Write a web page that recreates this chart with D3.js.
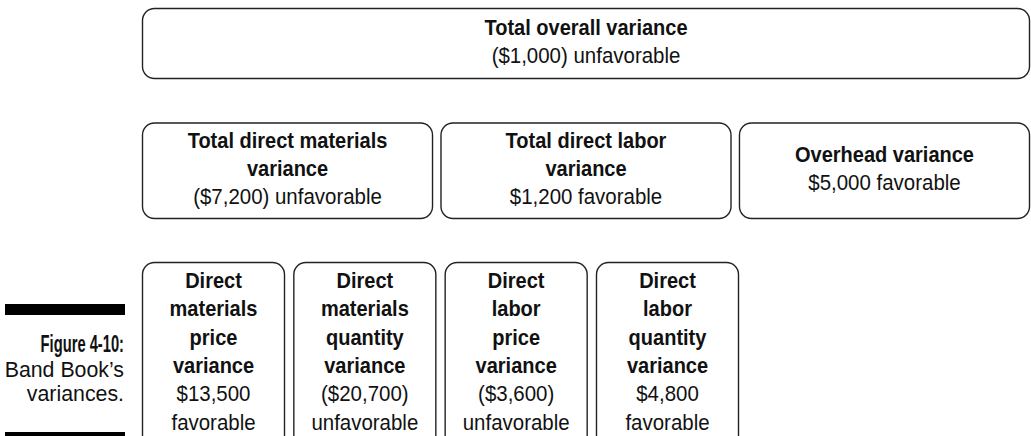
<!DOCTYPE html>
<html>
<head>
<meta charset="utf-8">
<script src="https://cdn.jsdelivr.net/npm/d3@7"></script>
<style>
  html, body { margin: 0; padding: 0; background: #fff; }
  svg { display: block; }
  text { font-family: "Liberation Sans", Arial, sans-serif; fill: #111; }
</style>
</head>
<body>
<div id="chart"></div>
<script>
// 差異の内訳（値は図から読み取り）
const overallTitle = [["Total overall variance"]];
const overallAmount = [["($1,000) unfavorable"]];

const categoryTitles = [
    ["Total direct materials", "variance"],
    ["Total direct labor", "variance"],
    ["Overhead variance"]
];
const categoryAmounts = [
    ["($7,200) unfavorable"],
    ["$1,200 favorable"],
    ["$5,000 favorable"]
];

const detailTitles = [
    ["Direct", "materials", "price", "variance"],
    ["Direct", "materials", "quantity", "variance"],
    ["Direct", "labor", "price", "variance"],
    ["Direct", "labor", "quantity", "variance"]
];
const detailAmounts = [
    ["$13,500", "favorable"],
    ["($20,700)", "unfavorable"],
    ["($3,600)", "unfavorable"],
    ["$4,800", "favorable"]
];

const captionBold = ["Figure 4-10:"];
const captionLines = ["Band Book\u2019s", "variances."];

const width = 1031;
const height = 436;
const lineHeight = 28.3;
const fontSize = 22;
// 細身の書体が無いので横方向に縮める
const boldSqueeze = 0.91;
const regularSqueeze = 0.93;

const svg = d3.select("#chart")
    .append("svg")
    .attr("width", width)
    .attr("height", height);

// 列の位置はバンドスケールで決める
const xTop = d3.scaleBand().domain([0]).range([142, 1030]);
const xMid = d3.scaleBand().domain(d3.range(categoryTitles.length)).range([142, 1030]).paddingInner(0.025);
const xBot = d3.scaleBand().domain(d3.range(detailTitles.length)).range([142, 739]).paddingInner(0.055);

// rows: top / height / first baseline offset
const rows = [
    { titles: overallTitle, amounts: overallAmount, x: xTop, top: 8, h: 70, first: 27 },
    { titles: categoryTitles, amounts: categoryAmounts, x: xMid, top: 122.5, h: 95.5, first: 25 },
    { titles: detailTitles, amounts: detailAmounts, x: xBot, top: 262, h: 190, first: 26 }
];

rows.forEach(row => {
    const maxLines = d3.max(row.titles, (t, i) => t.length + row.amounts[i].length);
    const boxes = svg.append("g")
        .selectAll("g")
        .data(row.titles.map((t, i) => ({ i: i, title: t, amount: row.amounts[i] })))
        .enter()
        .append("g")
        .attr("transform", d => `translate(${row.x(d.i)},${row.top})`);

    boxes.append("rect")
        .attr("x", 0.5)
        .attr("y", 0.5)
        .attr("width", row.x.bandwidth() - 1)
        .attr("height", row.h)
        .attr("rx", 12)
        .attr("ry", 12)
        .attr("fill", "#fff")
        .attr("stroke", "#222")
        .attr("stroke-width", 1.4);

    boxes.each(function(d) {
        const g = d3.select(this);
        const lines = d.title.map(s => ({ s: s, bold: true }))
            .concat(d.amount.map(s => ({ s: s, bold: false })));
        // 行数が少ない箱は縦方向に中央寄せ
        const y0 = row.first + (maxLines - lines.length) * lineHeight / 2;
        g.selectAll("text")
            .data(lines)
            .enter()
            .append("text")
            .attr("transform", (l, k) => `translate(${row.x.bandwidth() / 2},${y0 + k * lineHeight}) scale(${l.bold ? boldSqueeze : regularSqueeze},1)`)
            .attr("text-anchor", "middle")
            .style("font-size", fontSize + "px")
            .style("font-weight", l => l.bold ? "bold" : "normal")
            .text(l => l.s);
    });
});

// 図のキャプション
svg.append("rect").attr("x", 5).attr("y", 304).attr("width", 120).attr("height", 11).attr("fill", "#000");
svg.append("rect").attr("x", 5).attr("y", 432).attr("width", 120).attr("height", 11).attr("fill", "#000");

svg.append("g")
    .selectAll("text")
    .data(captionBold.map(s => ({ s: s, bold: true })).concat(captionLines.map(s => ({ s: s, bold: false }))))
    .enter()
    .append("text")
    .attr("transform", (d, i) => `translate(124,${352 + i * 24.5}) scale(${d.bold ? 0.64 : 0.97},1)`)
    .attr("text-anchor", "end")
    .style("font-size", d => d.bold ? "23px" : "22px")
    .style("font-weight", d => d.bold ? "bold" : "normal")
    .text(d => d.s);
</script>
</body>
</html>
